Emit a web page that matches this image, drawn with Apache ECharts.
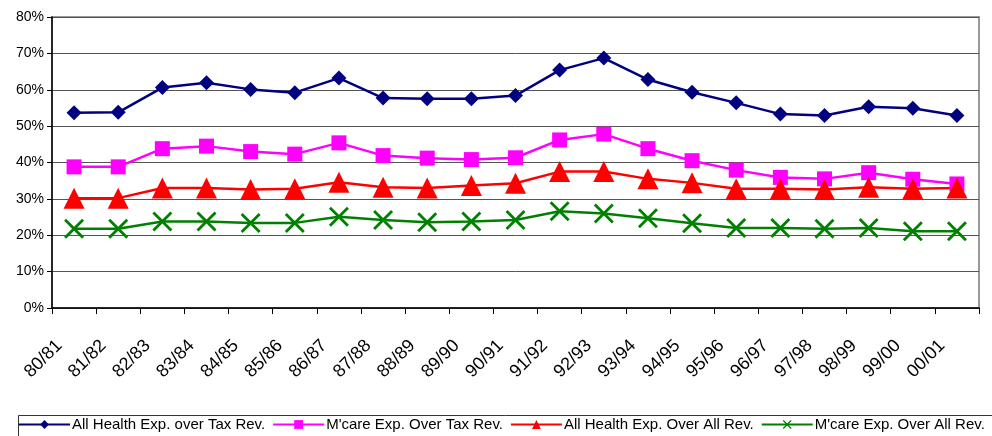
<!DOCTYPE html>
<html>
<head>
<meta charset="utf-8">
<script src="https://cdn.jsdelivr.net/npm/echarts@6/dist/echarts.min.js"></script>
<style>
  html, body { margin: 0; padding: 0; background: #fff; }
  #chart { width: 992px; height: 436px; }
</style>
</head>
<body>
<div id="chart"></div>
<script>
// fiscal years
const years = ['80/81', '81/82', '82/83', '83/84', '84/85', '85/86', '86/87', '87/88', '88/89', '89/90',
  '90/91', '91/92', '92/93', '93/94', '94/95', '95/96', '96/97', '97/98', '98/99', '99/00', '00/01']

// percentages
const healthOverTax = [53.7, 53.8, 60.6, 61.9, 60.1, 59.2, 63.2, 57.7, 57.5, 57.5,
  58.4, 65.4, 68.7, 62.8, 59.3, 56.4, 53.3, 52.9, 55.3, 54.9, 52.9]
const mcareOverTax = [38.8, 38.8, 43.8, 44.5, 43.0, 42.3, 45.4, 41.9, 41.2, 40.8,
  41.3, 46.2, 47.8, 43.8, 40.5, 37.9, 35.9, 35.5, 37.2, 35.4, 34.1]
const healthOverAll = [30.2, 30.2, 33.0, 33.0, 32.6, 32.8, 34.6, 33.2, 33.0, 33.7,
  34.3, 37.5, 37.5, 35.5, 34.4, 32.8, 32.8, 32.6, 33.2, 32.8, 33.0]
const mcareOverAll = [21.8, 21.8, 23.8, 23.8, 23.4, 23.4, 25.1, 24.2, 23.6, 23.8,
  24.2, 26.6, 26.0, 24.7, 23.3, 22.0, 22.0, 21.8, 22.0, 21.1, 21.1]

const seriesNames = ['All Health Exp. over Tax Rev.', "M'care Exp. Over Tax Rev.",
  'All Health Exp. Over All Rev.', "M'care Exp. Over All Rev."]

const xMark = 'path://M0,1L1,0L5,4L9,0L10,1L6,5L10,9L9,10L5,6L1,10L0,9L4,5Z'

let myChart = echarts.init(document.getElementById('chart'))

function makeLine (name, data, color, symbol, size) {
  return {
    name: name,
    type: 'line',
    data: data,
    symbol: symbol,
    symbolSize: size,
    showAllSymbol: true,
    lineStyle: { color: color, width: 2.5 },
    itemStyle: { color: color }
  }
}

myChart.setOption({
  animation: false,
  textStyle: { fontFamily: 'Liberation Sans, Arial, sans-serif' },
  grid: {
    left: 52,
    right: 13,
    top: 17,
    bottom: 128,
    show: true,
    borderColor: '#999',
    borderWidth: 2
  },
  // frame round the legend, spanning the full width like the original
  graphic: [{
    type: 'rect',
    left: 16,
    top: 413,
    shape: { width: 975, height: 30 },
    style: { fill: 'none', stroke: '#333', lineWidth: 1 },
    silent: true
  }],
  legend: {
    left: 18,
    top: 417,
    width: 1100,
    padding: 0,
    itemWidth: 51,
    itemHeight: 11,
    itemGap: 7,
    textStyle: { fontSize: 15, color: '#000', padding: [0, 0, 0, -3] },
    data: seriesNames
  },
  xAxis: {
    type: 'category',
    data: years,
    boundaryGap: true,
    axisLine: { lineStyle: { color: '#000', width: 1.5 } },
    axisTick: { show: true, length: 6, lineStyle: { color: '#000' } },
    axisLabel: {
      interval: 0,
      rotate: 45,
      margin: 20,
      padding: [0, 21, 0, 0],
      fontSize: 18,
      color: '#000'
    }
  },
  yAxis: {
    type: 'value',
    min: 0,
    max: 80,
    interval: 10,
    axisLine: { show: true, lineStyle: { color: '#000', width: 1.5 } },
    axisTick: { show: true, length: 5, lineStyle: { color: '#000' } },
    axisLabel: {
      formatter: '{value}%',
      fontSize: 14,
      color: '#000',
      margin: 8
    },
    splitLine: { lineStyle: { color: '#555', width: 1 } }
  },
  series: [
    makeLine(seriesNames[0], healthOverTax, '#000080', 'diamond', 15),
    makeLine(seriesNames[1], mcareOverTax, '#ff00ff', 'rect', 15),
    makeLine(seriesNames[2], healthOverAll, '#ff0000', 'triangle', 21),
    makeLine(seriesNames[3], mcareOverAll, '#008000', xMark, 20)
  ]
})
</script>
</body>
</html>
